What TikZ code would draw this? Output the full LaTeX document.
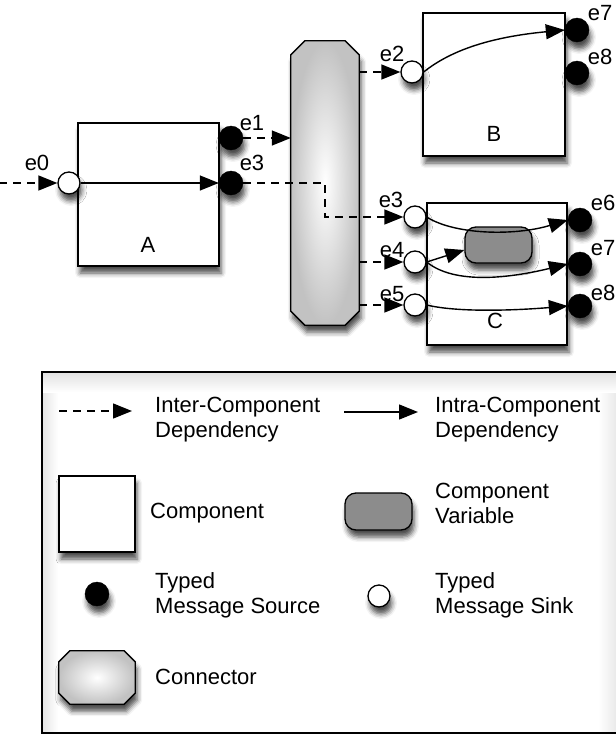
\documentclass[tikz,border=0pt]{standalone}
\usepackage{fontspec}
\setmainfont{Liberation Sans}
\usetikzlibrary{arrows.meta}
\usetikzlibrary{shadows.blur}
\tikzset{
    lbl/.style = {font=\fontsize{22}{25}\selectfont, inner sep=0pt},
    legtext/.style = {lbl, align=left, anchor=west},
    shdw/.style = {blur shadow={shadow xshift=2pt, shadow yshift=-7pt, shadow blur radius=5pt, shadow opacity=70}},
    comp/.style = {rectangle, draw=black, fill=white, line width=1.6pt, inner sep=0pt, shdw},
    sink/.style = {circle, draw=black, fill=white, line width=1.3pt, minimum size=22pt, inner sep=0pt, shdw},
    source/.style = {circle, draw=black, fill=black, minimum size=24pt, inner sep=0pt, shdw},
    cvar/.style = {rectangle, rounded corners=11pt, draw=black, fill=black!45, line width=1.3pt, inner sep=0pt, shdw},
    connbox/.style = {rectangle, inner sep=0pt},
    connshape/.style = {draw=black, line width=1.3pt, inner color=white, outer color=black!24, shdw},
    tip/.style = {-{Triangle[length=19pt, width=15pt, fill=black]}},
    dep/.style = {tip, dash pattern=on 8pt off 6pt, line width=1.4pt},
    intra/.style = {tip, line width=1.4pt}
}
% octagon with cut corners round a connector node: #1 node, #2 cut
\newcommand{\chamferbox}[2]{%
    \path[connshape] ([xshift=#2]#1.north west) -- ([xshift=-#2]#1.north east)
        -- ([yshift=-#2]#1.north east) -- ([yshift=#2]#1.south east)
        -- ([xshift=-#2]#1.south east) -- ([xshift=#2]#1.south west)
        -- ([yshift=#2]#1.south west) -- ([yshift=-#2]#1.north west) -- cycle;}

\begin{document}
\begin{tikzpicture}[x=1pt, y=-1pt]
    \useasboundingbox (0,0) rectangle (616,734);

    % connector between the components
    \node[connbox, minimum width=68pt, minimum height=284pt] (hub) at (325,183) {};
    \chamferbox{hub}{14pt}

    % component A
    \node[comp, minimum width=141pt, minimum height=143pt] (A) at (148.5,194.5) {};
    \node[lbl] (A_name) at (148,245) {A};
    \node[sink] (a_e0) at (69,183) {};
    \node[source] (a_e1) at (231,138) {};
    \node[source] (a_e3) at (231,183) {};
    \node[lbl] (a_e0_lbl) at (37,163) {e0};
    \node[lbl] (a_e1_lbl) at (252,123) {e1};
    \node[lbl] (a_e3_lbl) at (252,163) {e3};

    % component B
    \node[comp, minimum width=142pt, minimum height=143pt] (B) at (494,84.5) {};
    \node[lbl] (B_name) at (494,134) {B};
    \node[sink] (b_e2) at (412,72) {};
    \node[source] (b_e7) at (577,30) {};
    \node[source] (b_e8) at (577,73) {};
    \node[lbl] (b_e2_lbl) at (392,54) {e2};
    \node[lbl] (b_e7_lbl) at (600,13) {e7};
    \node[lbl] (b_e8_lbl) at (600,57) {e8};

    % component C
    \node[comp, minimum width=140pt, minimum height=142pt] (C) at (497,274) {};
    \node[lbl] (C_name) at (495,321) {C};
    \node[cvar, minimum width=67pt, minimum height=36pt] (c_var) at (498.5,245) {};
    \node[sink] (c_e3) at (415,217) {};
    \node[sink] (c_e4) at (415,262) {};
    \node[sink] (c_e5) at (415,305) {};
    \node[source] (c_e6) at (580,220) {};
    \node[source] (c_e7) at (580,264) {};
    \node[source] (c_e8) at (580,306) {};
    \node[lbl] (c_e3_lbl) at (391,200) {e3};
    \node[lbl] (c_e4_lbl) at (392,250) {e4};
    \node[lbl] (c_e5_lbl) at (392,294) {e5};
    \node[lbl] (c_e6_lbl) at (603,203) {e6};
    \node[lbl] (c_e7_lbl) at (603,248) {e7};
    \node[lbl] (c_e8_lbl) at (603,293) {e8};

    % inter-component dependencies
    \coordinate (in0) at (-1,183);
    \draw[dep] (in0) -- (a_e0);
    \draw[dep] (a_e1) -- (a_e1 -| hub.west);
    \draw[dep] (a_e3) -- (a_e3 -| hub.center) |- (c_e3);
    \draw[dep] (b_e2 -| hub.east) -- (b_e2);
    \draw[dep] (c_e4 -| hub.east) -- (c_e4);
    \draw[dep] (c_e5 -| hub.east) -- (c_e5);

    % intra-component dependencies
    \draw[intra] (a_e0) -- (a_e3);
    \draw[intra] (b_e2.east) .. controls (445,55) and (480,38) .. (b_e7.west);
    \draw[intra] (c_e3.east) .. controls (455,235) and (515,236) .. (c_e6.west);
    \draw[intra] (c_e4.east) -- ([yshift=-5pt]c_var.west);
    \draw[intra] (c_e4.east) .. controls (455,285) and (510,278) .. (c_e7.west);
    \draw[intra] (c_e5.east) .. controls (460,313) and (520,310) .. (c_e8.west);

    % legend
    \shade[left color=black!10, right color=white] (42,372) rectangle (58,733);
    \shade[left color=white, right color=black!10] (598,372) rectangle (620,733);
    \shade[top color=black!12, bottom color=white] (42,372) rectangle (620,392);
    \draw[line width=1.4pt] (42,372) rectangle (620,733);

    \coordinate (ld_a) at (59,411);
    \coordinate (ld_b) at (132,411);
    \draw[dep] (ld_a) -- (ld_b);
    \node[legtext] (t_inter) at (155,420) {Inter-Component\\Dependency};
    \coordinate (li_a) at (344,412);
    \coordinate (li_b) at (418,412);
    \draw[intra] (li_a) -- (li_b);
    \node[legtext] (t_intra) at (435,420) {Intra-Component\\Dependency};

    \node[comp, minimum width=76pt, minimum height=76pt] (l_comp) at (97,514) {};
    \node[legtext] (t_comp) at (150,513) {Component};
    \node[cvar, minimum width=67pt, minimum height=37pt] (l_var) at (378.5,511.5) {};
    \node[legtext] (t_var) at (435,503) {Component\\Variable};

    \node[source] (l_src) at (97,594) {};
    \node[legtext] (t_src) at (155,595) {Typed\\Message Source};
    \node[sink] (l_sink) at (379,596) {};
    \node[legtext] (t_sink) at (435,595) {Typed\\Message Sink};

    \node[connbox, minimum width=76pt, minimum height=53pt] (l_conn) at (97,677.5) {};
    \chamferbox{l_conn}{11pt}
    \node[legtext] (t_conn) at (155,677) {Connector};
\end{tikzpicture}
\end{document}
